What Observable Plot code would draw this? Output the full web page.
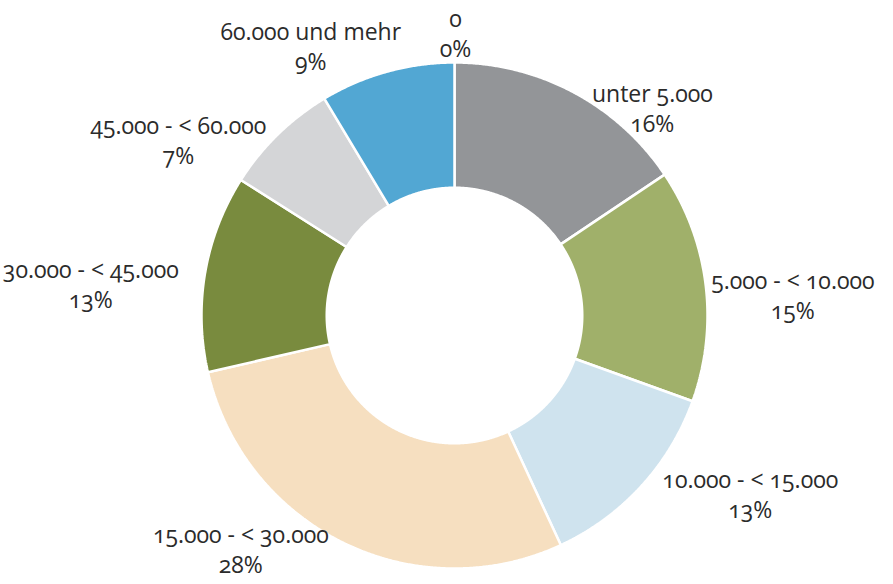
<!DOCTYPE html>
<html>
<head>
<meta charset="utf-8">
<script src="https://cdn.jsdelivr.net/npm/d3@7"></script>
<script src="https://cdn.jsdelivr.net/npm/@observablehq/plot@0.6"></script>
<style>
  html, body { margin: 0; padding: 0; background: #fff; }
  #chart svg { font-variant-numeric: oldstyle-nums; font-feature-settings: "onum" 1; }
</style>
</head>
<body>
<div id="chart"></div>
<script>
// ---- data ----
const categories = ["0", "unter 5.000", "5.000 - < 10.000", "10.000 - < 15.000", "15.000 - < 30.000", "30.000 - < 45.000", "45.000 - < 60.000", "60.000 und mehr"];
const shares = [0, 15.6, 14.9, 12.6, 28.3, 12.6, 7.4, 8.6];
const colors = ["#ffffff", "#939598", "#a0b06a", "#cfe3ee", "#f6dfc0", "#798b3e", "#d4d5d7", "#52a7d3"];

// ---- layout (label placement around the ring: angle clockwise from top, radius in ring units) ----
const labelAngle = [0.2, 43.6, 86.4, 121, 222.5, 275, 302.5, 332];
const labelRadius = [1.12, 1.134, 1.34, 1.364, 1.25, 1.443, 1.294, 1.21];
const innerRatio = 0.505;

const total = d3.sum(shares);
const pie = d3.pie().sort(null).value(d => d)(shares);

// polygon outlines for each slice, in ring coordinates
const slicePts = [];
pie.forEach((p, i) => {
  if (p.endAngle - p.startAngle <= 0) return;
  const n = Math.max(2, Math.ceil((p.endAngle - p.startAngle) / 0.005));
  const pts = [];
  for (let k = 0; k <= n; k++) {
    const a = p.startAngle + (p.endAngle - p.startAngle) * k / n;
    pts.push({x: Math.sin(a), y: Math.cos(a)});
  }
  for (let k = n; k >= 0; k--) {
    const a = p.startAngle + (p.endAngle - p.startAngle) * k / n;
    pts.push({x: innerRatio * Math.sin(a), y: innerRatio * Math.cos(a)});
  }
  pts.push(pts[0]);
  pts.forEach(q => slicePts.push({...q, key: categories[i]}));
});

const labels = categories.map((c, i) => {
  const a = labelAngle[i] * Math.PI / 180;
  return {
    x: labelRadius[i] * Math.sin(a),
    y: labelRadius[i] * Math.cos(a),
    text: c + "\n" + Math.round(shares[i] / total * 100) + "%"
  };
});

const chart = Plot.plot({
  width: 893,
  height: 584,
  margin: 0,
  style: {fontFamily: "'Open Sans', sans-serif", background: "#fff"},
  x: {domain: [-1, 1], range: [201, 707], axis: null},
  y: {domain: [-1, 1], range: [568, 62], axis: null},
  color: {domain: categories, range: colors},
  marks: [
    Plot.line(slicePts, {x: "x", y: "y", z: "key", fill: "key", stroke: "#fff", strokeWidth: 2.5, strokeLinejoin: "miter"}),
    Plot.text(labels, {x: "x", y: "y", text: "text", fontSize: 23, lineHeight: 1.3, fill: "#2b2b2b"})
  ]
});
document.getElementById("chart").appendChild(chart);
</script>
</body>
</html>
